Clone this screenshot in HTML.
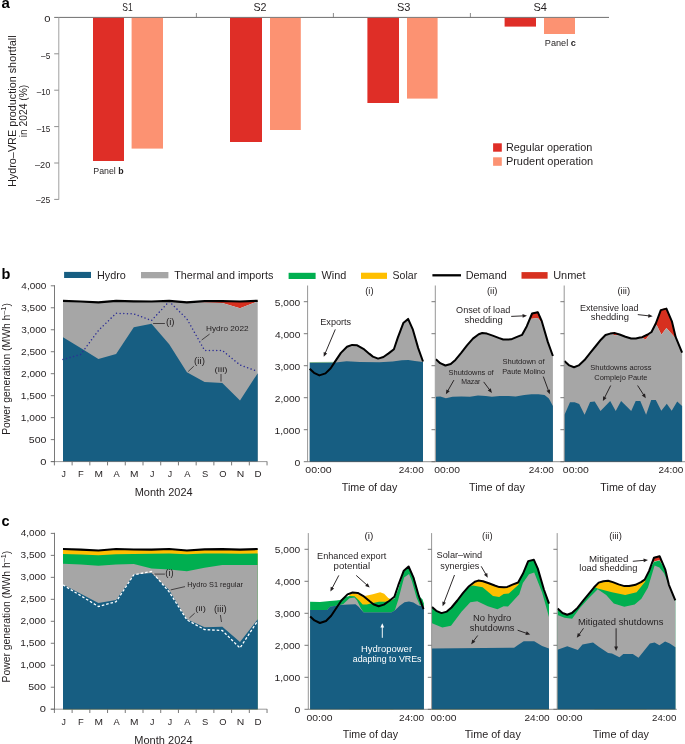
<!DOCTYPE html>
<html><head><meta charset="utf-8"><style>
html,body{margin:0;padding:0;background:#fff;width:685px;height:744px;overflow:hidden}
svg{display:block;font-family:"Liberation Sans", sans-serif;will-change:transform}
</style></head><body>
<svg width="685" height="744" viewBox="0 0 685 744">
<rect width="685" height="744" fill="#fff"/>
<text x="1.6" y="8" font-size="15" font-weight="bold" fill="#000">a</text>
<line x1="54.2" y1="17.4" x2="609" y2="17.4" stroke="#6e6e6e" stroke-width="1"/>
<line x1="58.8" y1="17.4" x2="58.8" y2="199.6" stroke="#a0a0a0" stroke-width="1"/>
<line x1="54.2" y1="53.8" x2="58.8" y2="53.8" stroke="#909090" stroke-width="1"/>
<line x1="54.2" y1="90.2" x2="58.8" y2="90.2" stroke="#909090" stroke-width="1"/>
<line x1="54.2" y1="126.6" x2="58.8" y2="126.6" stroke="#909090" stroke-width="1"/>
<line x1="54.2" y1="163" x2="58.8" y2="163" stroke="#909090" stroke-width="1"/>
<line x1="54.2" y1="199.4" x2="58.8" y2="199.4" stroke="#909090" stroke-width="1"/>
<line x1="196.4" y1="13" x2="196.4" y2="17.4" stroke="#6e6e6e" stroke-width="0.8"/>
<line x1="333.4" y1="13" x2="333.4" y2="17.4" stroke="#6e6e6e" stroke-width="0.8"/>
<line x1="470.4" y1="13" x2="470.4" y2="17.4" stroke="#6e6e6e" stroke-width="0.8"/>
<rect x="93" y="17.9" width="31" height="143.1" fill="#df2e27"/>
<rect x="131.6" y="17.9" width="31.4" height="130.7" fill="#fc9272"/>
<rect x="230" y="17.9" width="32" height="124.1" fill="#df2e27"/>
<rect x="270" y="17.9" width="30.8" height="112.1" fill="#fc9272"/>
<rect x="367.4" y="17.9" width="31.6" height="85.1" fill="#df2e27"/>
<rect x="407" y="17.9" width="30.6" height="80.7" fill="#fc9272"/>
<rect x="504.6" y="17.9" width="31.4" height="8.7" fill="#df2e27"/>
<rect x="544" y="17.9" width="31" height="16.1" fill="#fc9272"/>
<text x="122.31" y="11" font-size="11.3" textLength="10.4" lengthAdjust="spacingAndGlyphs" fill="#231f20">S1</text>
<text x="253.41" y="11" font-size="11.3" textLength="13.13" lengthAdjust="spacingAndGlyphs" fill="#231f20">S2</text>
<text x="396.9" y="11" font-size="11.3" textLength="13.49" lengthAdjust="spacingAndGlyphs" fill="#231f20">S3</text>
<text x="533.5" y="11" font-size="11.3" textLength="13.53" lengthAdjust="spacingAndGlyphs" fill="#231f20">S4</text>
<text x="44.21" y="22.2" font-size="9" textLength="6.22" lengthAdjust="spacingAndGlyphs" fill="#231f20">0</text>
<text x="41.1" y="58.6" font-size="9" textLength="9.25" lengthAdjust="spacingAndGlyphs" fill="#231f20">&#8211;5</text>
<text x="36.7" y="95.1" font-size="9" textLength="13.62" lengthAdjust="spacingAndGlyphs" fill="#231f20">&#8211;10</text>
<text x="36.7" y="131.8" font-size="9" textLength="13.64" lengthAdjust="spacingAndGlyphs" fill="#231f20">&#8211;15</text>
<text x="35" y="167.9" font-size="9" textLength="15.36" lengthAdjust="spacingAndGlyphs" fill="#231f20">&#8211;20</text>
<text x="36" y="203.4" font-size="9" textLength="14.36" lengthAdjust="spacingAndGlyphs" fill="#231f20">&#8211;25</text>
<text x="93.28" y="173.8" font-size="9.1" textLength="30.38" lengthAdjust="spacingAndGlyphs" fill="#231f20">Panel <tspan font-weight="bold">b</tspan></text>
<text x="544.85" y="46" font-size="9.1" textLength="31.02" lengthAdjust="spacingAndGlyphs" fill="#231f20">Panel <tspan font-weight="bold">c</tspan></text>
<text x="505.91" y="150.7" font-size="10.2" textLength="86.4" lengthAdjust="spacingAndGlyphs" fill="#231f20">Regular operation</text>
<text x="505.9" y="165.3" font-size="10.2" textLength="87.21" lengthAdjust="spacingAndGlyphs" fill="#231f20">Prudent operation</text>
<rect x="493.1" y="143.3" width="8.7" height="8.4" fill="#df2e27"/>
<rect x="493.1" y="157.3" width="8.7" height="8.5" fill="#fc9272"/>
<text transform="translate(16,111.2) rotate(-90)" font-size="11" text-anchor="middle" textLength="151.6" lengthAdjust="spacingAndGlyphs" fill="#231f20">Hydro&#8211;VRE production shortfall</text>
<text transform="translate(26.8,111) rotate(-90)" font-size="11" text-anchor="middle" textLength="52.5" lengthAdjust="spacingAndGlyphs" fill="#231f20">in 2024 (%)</text>
<text x="1.6" y="278.6" font-size="14.5" font-weight="bold" fill="#000">b</text>
<text x="1.6" y="526" font-size="14.5" font-weight="bold" fill="#000">c</text>
<polygon points="186.9,302.3 204.6,301.2 222.3,301 240,301.5 257.7,300.8 257.7,301.4 240,308.3 222.3,303 204.6,302.6 186.9,301.8" fill="#d7301f"/>
<polygon points="63,300.8 80.7,301.5 98.4,302.3 116.1,300.8 133.8,301.3 151.5,301.4 169.2,300.8 186.9,301.8 204.6,302.6 222.3,303 240,308.3 257.7,301.4 257.7,461.6 63,461.6" fill="#a6a6a6"/>
<polygon points="63,337.3 80.7,348.1 98.4,358.9 116.1,354.1 133.8,327.2 151.5,323.8 169.2,344.3 186.9,372.3 204.6,382 222.3,382.9 240,400.4 257.7,373.2 257.7,461.6 63,461.6" fill="#175e82"/>
<polyline points="63,359.4 80.7,354.4 98.4,330.5 116.1,313.3 133.8,313.9 151.5,320.5 169.2,301.4 186.9,318.9 204.6,350.4 222.3,350.4 240,365 257.7,371.5" fill="none" stroke="#2d2e96" stroke-width="1.5" stroke-linejoin="round" stroke-dasharray="0.01 3.65" stroke-linecap="round"/>
<polyline points="63,300.8 80.7,301.5 98.4,302.3 116.1,300.8 133.8,301.3 151.5,301.5 169.2,300.8 186.9,302.3 204.6,301.2 222.3,301 240,301.5 257.7,300.8" fill="none" stroke="#000" stroke-width="2.2" stroke-linejoin="round"/>
<line x1="54.5" y1="285.2" x2="54.5" y2="462" stroke="#6a6a6a" stroke-width="0.9"/>
<line x1="50.8" y1="461.6" x2="267.2" y2="461.6" stroke="#555" stroke-width="0.6"/>
<line x1="50.8" y1="461.6" x2="54.5" y2="461.6" stroke="#6a6a6a" stroke-width="0.9"/>
<line x1="50.8" y1="439.62" x2="54.5" y2="439.62" stroke="#6a6a6a" stroke-width="0.9"/>
<line x1="50.8" y1="417.65" x2="54.5" y2="417.65" stroke="#6a6a6a" stroke-width="0.9"/>
<line x1="50.8" y1="395.68" x2="54.5" y2="395.68" stroke="#6a6a6a" stroke-width="0.9"/>
<line x1="50.8" y1="373.7" x2="54.5" y2="373.7" stroke="#6a6a6a" stroke-width="0.9"/>
<line x1="50.8" y1="351.73" x2="54.5" y2="351.73" stroke="#6a6a6a" stroke-width="0.9"/>
<line x1="50.8" y1="329.75" x2="54.5" y2="329.75" stroke="#6a6a6a" stroke-width="0.9"/>
<line x1="50.8" y1="307.77" x2="54.5" y2="307.77" stroke="#6a6a6a" stroke-width="0.9"/>
<line x1="50.8" y1="285.8" x2="54.5" y2="285.8" stroke="#6a6a6a" stroke-width="0.9"/>
<line x1="54.4" y1="461.6" x2="54.4" y2="465.4" stroke="#6a6a6a" stroke-width="0.9"/>
<line x1="72.12" y1="461.6" x2="72.12" y2="465.4" stroke="#6a6a6a" stroke-width="0.9"/>
<line x1="89.84" y1="461.6" x2="89.84" y2="465.4" stroke="#6a6a6a" stroke-width="0.9"/>
<line x1="107.56" y1="461.6" x2="107.56" y2="465.4" stroke="#6a6a6a" stroke-width="0.9"/>
<line x1="125.28" y1="461.6" x2="125.28" y2="465.4" stroke="#6a6a6a" stroke-width="0.9"/>
<line x1="143" y1="461.6" x2="143" y2="465.4" stroke="#6a6a6a" stroke-width="0.9"/>
<line x1="160.72" y1="461.6" x2="160.72" y2="465.4" stroke="#6a6a6a" stroke-width="0.9"/>
<line x1="178.44" y1="461.6" x2="178.44" y2="465.4" stroke="#6a6a6a" stroke-width="0.9"/>
<line x1="196.16" y1="461.6" x2="196.16" y2="465.4" stroke="#6a6a6a" stroke-width="0.9"/>
<line x1="213.88" y1="461.6" x2="213.88" y2="465.4" stroke="#6a6a6a" stroke-width="0.9"/>
<line x1="231.6" y1="461.6" x2="231.6" y2="465.4" stroke="#6a6a6a" stroke-width="0.9"/>
<line x1="249.32" y1="461.6" x2="249.32" y2="465.4" stroke="#6a6a6a" stroke-width="0.9"/>
<line x1="267.04" y1="461.6" x2="267.04" y2="465.4" stroke="#6a6a6a" stroke-width="0.9"/>
<polygon points="63,549 80.7,549.7 98.4,550.5 116.1,549 133.8,549.5 151.5,549.7 169.2,549 186.9,550.5 204.6,549.4 222.3,549.2 240,549.7 257.7,549 257.7,709.2 63,709.2" fill="#ffbf00"/>
<polygon points="63,554.1 80.7,554.6 98.4,555.2 116.1,554.3 133.8,553.9 151.5,553.8 169.2,553.6 186.9,554.2 204.6,553.6 222.3,553.5 240,553.7 257.7,553.5 257.7,709.2 63,709.2" fill="#00af50"/>
<polygon points="63,563.7 80.7,564.6 98.4,565.7 116.1,564.5 133.8,564 151.5,568.5 169.2,569.5 186.9,571.2 204.6,567.8 222.3,565 240,565 257.7,565 257.7,709.2 63,709.2" fill="#a6a6a6"/>
<polygon points="63,584.6 80.7,593.8 98.4,603 116.1,599.9 133.8,574.6 151.5,573 169.2,590 186.9,619.3 204.6,627.2 222.3,626.7 240,642.1 257.7,619.3 257.7,709.2 63,709.2" fill="#175e82"/>
<polyline points="63,584.9 80.7,595.7 98.4,606.5 116.1,601.7 133.8,574.8 151.5,571.4 169.2,591.9 186.9,619.9 204.6,629.6 222.3,630.5 240,648 257.7,620.8" fill="none" stroke="#fff" stroke-width="1.3" stroke-linejoin="round" stroke-dasharray="2.6 1.9"/>
<polyline points="63,549 80.7,549.7 98.4,550.5 116.1,549 133.8,549.5 151.5,549.7 169.2,549 186.9,550.5 204.6,549.4 222.3,549.2 240,549.7 257.7,549" fill="none" stroke="#000" stroke-width="2.2" stroke-linejoin="round"/>
<line x1="54.5" y1="532.8" x2="54.5" y2="709.6" stroke="#6a6a6a" stroke-width="0.9"/>
<line x1="50.8" y1="709.2" x2="267.2" y2="709.2" stroke="#555" stroke-width="0.6"/>
<line x1="50.8" y1="709.2" x2="54.5" y2="709.2" stroke="#6a6a6a" stroke-width="0.9"/>
<line x1="50.8" y1="687.23" x2="54.5" y2="687.23" stroke="#6a6a6a" stroke-width="0.9"/>
<line x1="50.8" y1="665.25" x2="54.5" y2="665.25" stroke="#6a6a6a" stroke-width="0.9"/>
<line x1="50.8" y1="643.28" x2="54.5" y2="643.28" stroke="#6a6a6a" stroke-width="0.9"/>
<line x1="50.8" y1="621.3" x2="54.5" y2="621.3" stroke="#6a6a6a" stroke-width="0.9"/>
<line x1="50.8" y1="599.33" x2="54.5" y2="599.33" stroke="#6a6a6a" stroke-width="0.9"/>
<line x1="50.8" y1="577.35" x2="54.5" y2="577.35" stroke="#6a6a6a" stroke-width="0.9"/>
<line x1="50.8" y1="555.38" x2="54.5" y2="555.38" stroke="#6a6a6a" stroke-width="0.9"/>
<line x1="50.8" y1="533.4" x2="54.5" y2="533.4" stroke="#6a6a6a" stroke-width="0.9"/>
<line x1="54.4" y1="709.2" x2="54.4" y2="713" stroke="#6a6a6a" stroke-width="0.9"/>
<line x1="72.12" y1="709.2" x2="72.12" y2="713" stroke="#6a6a6a" stroke-width="0.9"/>
<line x1="89.84" y1="709.2" x2="89.84" y2="713" stroke="#6a6a6a" stroke-width="0.9"/>
<line x1="107.56" y1="709.2" x2="107.56" y2="713" stroke="#6a6a6a" stroke-width="0.9"/>
<line x1="125.28" y1="709.2" x2="125.28" y2="713" stroke="#6a6a6a" stroke-width="0.9"/>
<line x1="143" y1="709.2" x2="143" y2="713" stroke="#6a6a6a" stroke-width="0.9"/>
<line x1="160.72" y1="709.2" x2="160.72" y2="713" stroke="#6a6a6a" stroke-width="0.9"/>
<line x1="178.44" y1="709.2" x2="178.44" y2="713" stroke="#6a6a6a" stroke-width="0.9"/>
<line x1="196.16" y1="709.2" x2="196.16" y2="713" stroke="#6a6a6a" stroke-width="0.9"/>
<line x1="213.88" y1="709.2" x2="213.88" y2="713" stroke="#6a6a6a" stroke-width="0.9"/>
<line x1="231.6" y1="709.2" x2="231.6" y2="713" stroke="#6a6a6a" stroke-width="0.9"/>
<line x1="249.32" y1="709.2" x2="249.32" y2="713" stroke="#6a6a6a" stroke-width="0.9"/>
<line x1="267.04" y1="709.2" x2="267.04" y2="713" stroke="#6a6a6a" stroke-width="0.9"/>
<polygon points="309.7,368.8 314,372.8 319.4,375.4 325.5,373.4 330.7,368.2 334.7,362.1 340.9,352.9 347,346.8 352.1,344.9 357.2,345.3 363.4,348.8 369.5,353.9 372.9,356.6 378.1,358.6 383.4,357 388.6,353.4 393.9,349.2 397.8,337.6 403.3,323.1 408.1,318.9 412.9,329.7 418.2,348.1 423,361.5 423,461.7 309.7,461.7" fill="#a6a6a6"/>
<polygon points="309.7,362.8 336,362.5 340,361.9 346.6,361.2 359.7,361.9 379.4,362.3 392.6,361.5 401.8,360.2 408.3,359.9 414.9,361 423,361.9 423,461.7 309.7,461.7" fill="#175e82"/>
<line x1="309.7" y1="362.55" x2="334.5" y2="362.3" stroke="#4f9a5a" stroke-width="0.6"/>
<polyline points="309.7,368.8 314,372.8 319.4,375.4 325.5,373.4 330.7,368.2 334.7,362.1 340.9,352.9 347,346.8 352.1,344.9 357.2,345.3 363.4,348.8 369.5,353.9 372.9,356.6 378.1,358.6 383.4,357 388.6,353.4 393.9,349.2 397.8,337.6 403.3,323.1 408.1,318.9 412.9,329.7 418.2,348.1 423,361.5" fill="none" stroke="#000" stroke-width="2" stroke-linejoin="round"/>
<line x1="307.6" y1="285.5" x2="307.6" y2="461.7" stroke="#8a8a8a" stroke-width="0.9"/>
<line x1="303.8" y1="461.7" x2="307.6" y2="461.7" stroke="#6a6a6a" stroke-width="0.9"/>
<line x1="303.8" y1="429.7" x2="307.6" y2="429.7" stroke="#6a6a6a" stroke-width="0.9"/>
<line x1="303.8" y1="397.7" x2="307.6" y2="397.7" stroke="#6a6a6a" stroke-width="0.9"/>
<line x1="303.8" y1="365.7" x2="307.6" y2="365.7" stroke="#6a6a6a" stroke-width="0.9"/>
<line x1="303.8" y1="333.7" x2="307.6" y2="333.7" stroke="#6a6a6a" stroke-width="0.9"/>
<line x1="303.8" y1="301.7" x2="307.6" y2="301.7" stroke="#6a6a6a" stroke-width="0.9"/>
<line x1="307.6" y1="461.7" x2="435.3" y2="461.7" stroke="#444" stroke-width="0.6"/>
<polygon points="528.5,321.53 531.2,315.06 532.1,312.9 537.8,311.6 540.4,317.47 541.5,319.95 541.5,323.2 540.4,321 537.8,317.9 532.1,318.68 531.2,318.8 528.5,322.5" fill="#d7301f"/>
<polygon points="435.9,359.3 440.2,363.2 445.4,365.5 450.7,364 455.4,359.9 461.2,352.9 467,345.3 472.9,338.6 478.7,334.2 482.2,333 486.9,333.6 492.7,335.6 498.6,337.9 503.2,339.5 507.9,339.6 511.1,339.3 516.4,337.1 522,334.9 526.8,326.2 528.5,322.5 531.2,318.8 532.1,318.68 537.8,317.9 540.4,321 541.5,323.2 541.7,321 547.8,341.9 552.9,356 552.9,461.7 435.9,461.7" fill="#a6a6a6"/>
<polygon points="435.9,396.8 440.3,396.4 445.9,398.2 452.5,396.8 461.3,396.4 470,396.8 477.9,395.4 485.8,395.9 491.9,396.8 499.8,395.9 508.6,395.9 515.6,396.4 524.3,395 531.4,394.2 538.4,394.2 544.5,395 548.9,398.5 552.9,405.9 552.9,461.7 435.9,461.7" fill="#175e82"/>
<polyline points="435.9,359.3 440.2,363.2 445.4,365.5 450.7,364 455.4,359.9 461.2,352.9 467,345.3 472.9,338.6 478.7,334.2 482.2,333 486.9,333.6 492.7,335.6 498.6,337.9 503.2,339.5 507.9,339.6 511.1,339.3 516.4,337.1 522,334.9 526.8,326.2 532.1,313.5 537.8,312.2 541.7,321 547.8,341.9 552.9,356" fill="none" stroke="#000" stroke-width="2" stroke-linejoin="round"/>
<line x1="435.3" y1="285.5" x2="435.3" y2="461.7" stroke="#8a8a8a" stroke-width="0.9"/>
<line x1="431.5" y1="461.7" x2="435.3" y2="461.7" stroke="#6a6a6a" stroke-width="0.9"/>
<line x1="431.5" y1="429.7" x2="435.3" y2="429.7" stroke="#6a6a6a" stroke-width="0.9"/>
<line x1="431.5" y1="397.7" x2="435.3" y2="397.7" stroke="#6a6a6a" stroke-width="0.9"/>
<line x1="431.5" y1="365.7" x2="435.3" y2="365.7" stroke="#6a6a6a" stroke-width="0.9"/>
<line x1="431.5" y1="333.7" x2="435.3" y2="333.7" stroke="#6a6a6a" stroke-width="0.9"/>
<line x1="431.5" y1="301.7" x2="435.3" y2="301.7" stroke="#6a6a6a" stroke-width="0.9"/>
<line x1="435.3" y1="461.7" x2="564.2" y2="461.7" stroke="#444" stroke-width="0.6"/>
<polygon points="611.5,332.86 614.9,332.5 618,333.42 618,335 614.9,335.6 611.5,333.6" fill="#d7301f"/>
<polygon points="641.5,336.73 642.2,336.6 645.9,334.82 647.8,333.9 649.8,332.55 649.8,334 647.8,336.87 645.9,339.6 642.2,337.92 641.5,337.6" fill="#d7301f"/>
<polygon points="653.8,326.85 655.8,322.9 656.5,321.02 660.8,309.5 661.4,309.34 666.4,308 672,321.1 675.1,334.09 675.5,335.76 675.5,338.5 675.1,337.8 672,334.27 666.4,327.9 661.4,334.7 660.8,333.49 656.5,324.8 655.8,325.76 653.8,328.5" fill="#d7301f"/>
<polygon points="564.4,361 569.3,365.4 574,367.2 578.7,365.4 584.5,360.1 590.4,352.6 596.2,345.5 600.9,339.7 605.5,335 610.2,333.6 611.5,333.6 614.9,335.6 618,335 619.6,334.5 625.4,336.8 631.2,338.5 635.9,338.5 640,337.6 641.5,337.6 642.2,337.92 645.9,339.6 647.8,336.87 649.8,334 651.5,332 653.8,328.5 655.8,325.76 656.5,324.8 660.8,333.49 661.4,334.7 666.4,327.9 672,334.27 675.1,337.8 675.5,338.5 675.7,337.2 682.1,352.7 682.1,461.7 564.4,461.7" fill="#a6a6a6"/>
<polygon points="564.5,414.7 570,402.3 574.6,402.3 579.2,404.1 584.6,414.7 590.1,401.9 594.7,401.5 600.5,411 610.2,401 615.7,411 621.1,401 625.7,405.5 631.2,411 635.7,401 640.3,401 646.1,414.7 651.2,400.1 655.8,400.1 661.3,410.7 666.8,403.7 671.7,410.7 677.2,401.4 682.1,406 682.1,461.7 564.5,461.7" fill="#175e82"/>
<polyline points="564.4,361 569.3,365.4 574,367.2 578.7,365.4 584.5,360.1 590.4,352.6 596.2,345.5 600.9,339.7 605.5,335 610.2,333.6 614.9,333.1 619.6,334.5 625.4,336.8 631.2,338.5 635.9,338.5 640,337.6 642.2,337.2 647.8,334.5 651.5,332 655.8,323.5 660.8,310.1 666.4,308.6 672,321.7 675.7,337.2 682.1,352.7" fill="none" stroke="#000" stroke-width="2" stroke-linejoin="round"/>
<line x1="564.2" y1="285.5" x2="564.2" y2="461.7" stroke="#8a8a8a" stroke-width="0.9"/>
<line x1="560.4" y1="461.7" x2="564.2" y2="461.7" stroke="#6a6a6a" stroke-width="0.9"/>
<line x1="560.4" y1="429.7" x2="564.2" y2="429.7" stroke="#6a6a6a" stroke-width="0.9"/>
<line x1="560.4" y1="397.7" x2="564.2" y2="397.7" stroke="#6a6a6a" stroke-width="0.9"/>
<line x1="560.4" y1="365.7" x2="564.2" y2="365.7" stroke="#6a6a6a" stroke-width="0.9"/>
<line x1="560.4" y1="333.7" x2="564.2" y2="333.7" stroke="#6a6a6a" stroke-width="0.9"/>
<line x1="560.4" y1="301.7" x2="564.2" y2="301.7" stroke="#6a6a6a" stroke-width="0.9"/>
<line x1="564.2" y1="461.7" x2="685" y2="461.7" stroke="#444" stroke-width="0.6"/>
<polygon points="349.4,596.1 349.4,594.3 354.5,593.1 360.7,595.3 364.7,596.1 372.9,594.3 380.1,592.3 384.2,593.8 388.2,597.9 391.3,599.4 393.4,599.6 393.4,709.3 349.4,709.3" fill="#ffbf00"/>
<polygon points="310.1,601.8 320,602 330,601 336.1,600.4 340.2,599.9 345.3,596.9 349.4,596.1 354.5,596.3 358.6,599.9 362.7,604.5 366.8,604.5 372.9,603 379,601.7 385.2,601.7 391.3,600.4 394.4,598.5 398.1,589.5 403.7,571.5 409,567 414.2,578 419,596.5 422.3,599 423.9,603.4 423.9,709.3 310.1,709.3" fill="#00af50"/>
<polygon points="310.1,610 327,610 330,606.8 340.2,605 343.3,604 349.4,598.2 354.5,597.6 357.1,600.4 360.7,608.1 363.7,612.5 391.3,612.5 394.8,610.6 398.1,600.2 404.1,577.6 409,574 411.8,580.8 416.6,597.7 419.8,605 423.9,606.6 423.9,709.3 310.1,709.3" fill="#a6a6a6"/>
<polygon points="310.1,610 327,610 330,606.8 340.2,605 348.4,604.5 355.5,604.3 358.6,606.8 363.7,612.5 391.3,612.5 394.8,610.6 399.7,605.8 404.5,602.2 409,601.4 413.4,602.6 418.2,605.4 423.9,606.6 423.9,709.3 310.1,709.3" fill="#175e82"/>
<polyline points="310.2,616.4 314.5,620.4 319.9,623 326,621 331.2,615.8 335.2,609.7 341.4,600.5 347.5,594.4 352.6,592.5 357.7,592.9 363.9,596.4 370,601.5 373.4,604.2 378.6,606.2 383.9,604.6 389.1,601 394.4,596.8 398.3,585.2 403.8,570.7 408.6,566.5 413.4,577.3 418.7,595.7 423.5,609.1" fill="none" stroke="#000" stroke-width="2" stroke-linejoin="round"/>
<line x1="308.3" y1="533.1" x2="308.3" y2="709.3" stroke="#8a8a8a" stroke-width="0.9"/>
<line x1="304.5" y1="709.3" x2="308.3" y2="709.3" stroke="#6a6a6a" stroke-width="0.9"/>
<line x1="304.5" y1="677.3" x2="308.3" y2="677.3" stroke="#6a6a6a" stroke-width="0.9"/>
<line x1="304.5" y1="645.3" x2="308.3" y2="645.3" stroke="#6a6a6a" stroke-width="0.9"/>
<line x1="304.5" y1="613.3" x2="308.3" y2="613.3" stroke="#6a6a6a" stroke-width="0.9"/>
<line x1="304.5" y1="581.3" x2="308.3" y2="581.3" stroke="#6a6a6a" stroke-width="0.9"/>
<line x1="304.5" y1="549.3" x2="308.3" y2="549.3" stroke="#6a6a6a" stroke-width="0.9"/>
<line x1="308.3" y1="709.3" x2="431.6" y2="709.3" stroke="#444" stroke-width="0.6"/>
<polygon points="432,606.9 436.3,610.8 441.5,613.1 446.8,611.6 451.5,607.5 457.3,600.5 463.1,592.9 469,586.2 474.8,581.8 478.3,580.6 483,581.2 488.8,583.2 494.7,585.5 499.3,587.1 504,587.2 507.2,586.9 512.5,584.7 518.1,582.5 522.9,573.8 528.2,561.1 533.9,559.8 537.8,568.6 543.9,589.5 549,603.6 549,709.3 432,709.3" fill="#ffbf00"/>
<polygon points="432,606.9 436.3,610.8 441.5,613.1 446.8,611.6 451.5,607.5 457.3,600.5 463.1,592.9 468.5,586.77 472.9,585.5 482.6,587.3 493,596 499.2,597 503.6,594 508.8,593.4 518.5,584.7 519.5,579.96 522.9,573.8 528.2,561.1 533.9,559.8 537.8,568.6 543.9,589.5 549,603.6 549,709.3 432,709.3" fill="#00af50"/>
<polygon points="432,623.2 442.3,627.6 451,625.8 461.5,611.8 470.3,602.2 477.3,601.3 487.8,606.2 497.4,609.2 503.6,606.2 508,606.6 519.3,594.3 522.9,582.9 529,574.2 534.2,572.4 542.1,592.6 549,617.1 549,709.3 432,709.3" fill="#a6a6a6"/>
<polygon points="432,648.6 514.1,647.7 518,645 523.7,641.3 534.2,641.3 542.1,646 549,648.6 549,709.3 432,709.3" fill="#175e82"/>
<polyline points="432,606.9 436.3,610.8 441.5,613.1 446.8,611.6 451.5,607.5 457.3,600.5 463.1,592.9 469,586.2 474.8,581.8 478.3,580.6 483,581.2 488.8,583.2 494.7,585.5 499.3,587.1 504,587.2 507.2,586.9 512.5,584.7 518.1,582.5 522.9,573.8 528.2,561.1 533.9,559.8 537.8,568.6 543.9,589.5 549,603.6" fill="none" stroke="#000" stroke-width="2" stroke-linejoin="round"/>
<line x1="431.6" y1="533.1" x2="431.6" y2="709.3" stroke="#8a8a8a" stroke-width="0.9"/>
<line x1="427.8" y1="709.3" x2="431.6" y2="709.3" stroke="#6a6a6a" stroke-width="0.9"/>
<line x1="427.8" y1="677.3" x2="431.6" y2="677.3" stroke="#6a6a6a" stroke-width="0.9"/>
<line x1="427.8" y1="645.3" x2="431.6" y2="645.3" stroke="#6a6a6a" stroke-width="0.9"/>
<line x1="427.8" y1="613.3" x2="431.6" y2="613.3" stroke="#6a6a6a" stroke-width="0.9"/>
<line x1="427.8" y1="581.3" x2="431.6" y2="581.3" stroke="#6a6a6a" stroke-width="0.9"/>
<line x1="427.8" y1="549.3" x2="431.6" y2="549.3" stroke="#6a6a6a" stroke-width="0.9"/>
<line x1="431.6" y1="709.3" x2="557.2" y2="709.3" stroke="#444" stroke-width="0.6"/>
<polygon points="594.5,586.89 598.7,582.6 603.4,581.2 608.1,580.7 612.8,582.1 618.6,584.4 624.4,586.1 629.1,586.1 633.2,585.2 635.4,584.8 641,582.1 644.7,579.6 646.5,576.04 646.5,709.3 594.5,709.3" fill="#ffbf00"/>
<polygon points="652.5,561.12 654,557.1 654.6,556.94 659.4,555.65 659.6,555.6 664.1,566.13 665.2,568.7 666,572.05 666,572.65 665.2,569.3 664.1,566.8 659.6,560.48 659.4,560.2 654.6,561.2 654,561.86 652.5,563.5" fill="#d7301f"/>
<polygon points="557.6,608.6 562.5,613 567.2,614.8 571.9,613 577.7,607.7 583.6,600.2 589.4,593.1 594.1,587.3 594.5,586.89 597.7,588.6 612,592.2 625.2,595 636.6,592.2 645.1,581.8 646.5,576.04 649,571.1 654,561.86 659.6,560.48 665.2,569.3 668.9,584.8 675.3,600.3 675.3,709.3 557.6,709.3" fill="#00af50"/>
<polygon points="557.5,615 564.5,617.8 572.1,618.8 579.7,608.3 588.2,598.8 597.7,589.3 606.2,595 613.8,603.6 624.3,606.8 634.7,604.5 641.4,598.8 648,587.4 654.6,565.6 659.4,567.5 664.1,573.2 669.8,587.4 675.4,601.7 675.4,709.3 557.5,709.3" fill="#a6a6a6"/>
<polygon points="557.5,649.7 567.3,646.3 577.8,650.1 582.5,644.4 593,642.5 598.7,646.7 608.1,652.9 612,653.5 619.5,657.3 623.3,653.9 632.8,653.9 638.5,657.7 649.9,643.4 654.6,642.5 659.4,645.3 665.1,641.5 669.8,643.4 675.4,647.2 675.4,709.3 557.5,709.3" fill="#175e82"/>
<polyline points="557.6,608.6 562.5,613 567.2,614.8 571.9,613 577.7,607.7 583.6,600.2 589.4,593.1 594.1,587.3 598.7,582.6 603.4,581.2 608.1,580.7 612.8,582.1 618.6,584.4 624.4,586.1 629.1,586.1 633.2,585.2 635.4,584.8 641,582.1 644.7,579.6 649,571.1 654,557.7 659.6,556.2 665.2,569.3 668.9,584.8 675.3,600.3" fill="none" stroke="#000" stroke-width="2" stroke-linejoin="round"/>
<line x1="557.2" y1="533.1" x2="557.2" y2="709.3" stroke="#8a8a8a" stroke-width="0.9"/>
<line x1="553.4" y1="709.3" x2="557.2" y2="709.3" stroke="#6a6a6a" stroke-width="0.9"/>
<line x1="553.4" y1="677.3" x2="557.2" y2="677.3" stroke="#6a6a6a" stroke-width="0.9"/>
<line x1="553.4" y1="645.3" x2="557.2" y2="645.3" stroke="#6a6a6a" stroke-width="0.9"/>
<line x1="553.4" y1="613.3" x2="557.2" y2="613.3" stroke="#6a6a6a" stroke-width="0.9"/>
<line x1="553.4" y1="581.3" x2="557.2" y2="581.3" stroke="#6a6a6a" stroke-width="0.9"/>
<line x1="553.4" y1="549.3" x2="557.2" y2="549.3" stroke="#6a6a6a" stroke-width="0.9"/>
<line x1="557.2" y1="709.3" x2="676.8" y2="709.3" stroke="#444" stroke-width="0.6"/>
<rect x="64.1" y="271.9" width="26.9" height="6.1" fill="#175e82"/>
<rect x="141" y="272" width="27.4" height="6.3" fill="#a6a6a6"/>
<rect x="288.6" y="272.8" width="27" height="6.2" fill="#00af50"/>
<rect x="361" y="272.7" width="26" height="6.2" fill="#ffbf00"/>
<line x1="432.4" y1="275.3" x2="461" y2="275.3" stroke="#000" stroke-width="2.3"/>
<rect x="521.5" y="272.1" width="26.1" height="6.6" fill="#d7301f"/>
<text x="96.91" y="278.8" font-size="10.3" textLength="28.95" lengthAdjust="spacingAndGlyphs" fill="#231f20">Hydro</text>
<text x="174.16" y="278.8" font-size="10.3" textLength="99.23" lengthAdjust="spacingAndGlyphs" fill="#231f20">Thermal and imports</text>
<text x="321.55" y="278.8" font-size="10.3" textLength="24.75" lengthAdjust="spacingAndGlyphs" fill="#231f20">Wind</text>
<text x="392.52" y="278.8" font-size="10.3" textLength="24.65" lengthAdjust="spacingAndGlyphs" fill="#231f20">Solar</text>
<text x="465.71" y="278.8" font-size="10.3" textLength="40.99" lengthAdjust="spacingAndGlyphs" fill="#231f20">Demand</text>
<text x="553.15" y="278.8" font-size="10.3" textLength="32.33" lengthAdjust="spacingAndGlyphs" fill="#231f20">Unmet</text>
<line x1="153.1" y1="323.5" x2="164.9" y2="323.5" stroke="#231f20" stroke-width="0.75"/>
<line x1="209.6" y1="334.1" x2="201.7" y2="340" stroke="#231f20" stroke-width="0.75"/>
<line x1="193.8" y1="366.2" x2="188.2" y2="371.5" stroke="#231f20" stroke-width="0.75"/>
<line x1="221" y1="374" x2="221" y2="381.5" stroke="#231f20" stroke-width="0.75"/>
<line x1="152.6" y1="574.1" x2="164.9" y2="574.1" stroke="#231f20" stroke-width="0.75"/>
<line x1="185" y1="586.6" x2="170.7" y2="589.9" stroke="#231f20" stroke-width="0.75"/>
<line x1="194.7" y1="613.2" x2="189.4" y2="618" stroke="#231f20" stroke-width="0.75"/>
<line x1="220.4" y1="615" x2="221.5" y2="622" stroke="#231f20" stroke-width="0.75"/>
<line x1="335.3" y1="329.4" x2="325.1" y2="353.48" stroke="#231f20" stroke-width="0.95"/>
<polygon points="323.7,356.8 323.67,352.01 327.17,353.49" fill="#231f20"/>
<line x1="511.2" y1="316.4" x2="523.4" y2="315.86" stroke="#231f20" stroke-width="0.95"/>
<polygon points="527,315.7 522.69,317.79 522.52,314" fill="#231f20"/>
<line x1="453.9" y1="380.1" x2="447.68" y2="391.07" stroke="#231f20" stroke-width="0.95"/>
<polygon points="445.9,394.2 446.42,389.44 449.72,391.31" fill="#231f20"/>
<line x1="483.7" y1="381.9" x2="489.75" y2="390.01" stroke="#231f20" stroke-width="0.95"/>
<polygon points="491.9,392.9 487.75,390.51 490.79,388.24" fill="#231f20"/>
<line x1="543.3" y1="376.6" x2="548.55" y2="390.82" stroke="#231f20" stroke-width="0.95"/>
<polygon points="549.8,394.2 546.49,390.73 550.06,389.41" fill="#231f20"/>
<line x1="637.8" y1="314.6" x2="649.12" y2="315.89" stroke="#231f20" stroke-width="0.95"/>
<polygon points="652.7,316.3 648.11,317.69 648.54,313.91" fill="#231f20"/>
<line x1="610.7" y1="385.5" x2="604.52" y2="397.78" stroke="#231f20" stroke-width="0.95"/>
<polygon points="602.9,401 603.18,396.22 606.58,397.92" fill="#231f20"/>
<line x1="637.6" y1="385.5" x2="643.85" y2="395.18" stroke="#231f20" stroke-width="0.95"/>
<polygon points="645.8,398.2 641.82,395.53 645.01,393.47" fill="#231f20"/>
<line x1="338.8" y1="575.4" x2="332.07" y2="588.31" stroke="#231f20" stroke-width="0.95"/>
<polygon points="330.4,591.5 330.75,586.72 334.12,588.48" fill="#231f20"/>
<line x1="356.2" y1="575.4" x2="367.02" y2="585.1" stroke="#231f20" stroke-width="0.95"/>
<polygon points="369.7,587.5 365.16,585.98 367.69,583.15" fill="#231f20"/>
<line x1="454.5" y1="575" x2="443.88" y2="602.84" stroke="#231f20" stroke-width="0.95"/>
<polygon points="442.6,606.2 442.39,601.41 445.94,602.77" fill="#231f20"/>
<line x1="481.2" y1="566.3" x2="486" y2="574.58" stroke="#231f20" stroke-width="0.95"/>
<polygon points="487.8,577.7 483.95,574.84 487.24,572.94" fill="#231f20"/>
<line x1="477.7" y1="635.5" x2="473.35" y2="641.32" stroke="#231f20" stroke-width="0.95"/>
<polygon points="471.2,644.2 472.31,639.54 475.36,641.81" fill="#231f20"/>
<line x1="517.6" y1="630.2" x2="526.8" y2="633.41" stroke="#231f20" stroke-width="0.95"/>
<polygon points="530.2,634.6 525.42,634.94 526.67,631.36" fill="#231f20"/>
<line x1="632.8" y1="561.3" x2="644.41" y2="560.31" stroke="#231f20" stroke-width="0.95"/>
<polygon points="648,560 643.78,562.27 643.45,558.48" fill="#231f20"/>
<line x1="583.5" y1="628.3" x2="578.89" y2="634.77" stroke="#231f20" stroke-width="0.95"/>
<polygon points="576.8,637.7 577.81,633.01 580.9,635.22" fill="#231f20"/>
<line x1="616.1" y1="628.3" x2="616.1" y2="647.4" stroke="#231f20" stroke-width="0.95"/>
<polygon points="616.1,651 614.2,646.6 618,646.6" fill="#231f20"/>
<line x1="382.3" y1="637.8" x2="382.3" y2="626.8" stroke="#fff" stroke-width="0.95"/>
<polygon points="382.3,623.2 384.2,627.6 380.4,627.6" fill="#fff"/>
<text transform="translate(9.9,369) rotate(-90)" font-size="10" text-anchor="middle" textLength="131.7" lengthAdjust="spacingAndGlyphs" fill="#231f20">Power generation (MWh h<tspan dy="-4.2" font-size="7">&#8211;1</tspan><tspan dy="4.2">)</tspan></text>
<text transform="translate(9.9,616.6) rotate(-90)" font-size="10" text-anchor="middle" textLength="131.7" lengthAdjust="spacingAndGlyphs" fill="#231f20">Power generation (MWh h<tspan dy="-4.2" font-size="7">&#8211;1</tspan><tspan dy="4.2">)</tspan></text>
<text x="40.27" y="464.65" font-size="8.9" textLength="6.17" lengthAdjust="spacingAndGlyphs" fill="#231f20">0</text>
<text x="28.78" y="442.68" font-size="8.9" textLength="17.64" lengthAdjust="spacingAndGlyphs" fill="#231f20">500</text>
<text x="20.82" y="420.7" font-size="8.9" textLength="25.58" lengthAdjust="spacingAndGlyphs" fill="#231f20">1,000</text>
<text x="20.82" y="398.73" font-size="8.9" textLength="25.58" lengthAdjust="spacingAndGlyphs" fill="#231f20">1,500</text>
<text x="21.09" y="376.75" font-size="8.9" textLength="25.3" lengthAdjust="spacingAndGlyphs" fill="#231f20">2,000</text>
<text x="21.09" y="354.78" font-size="8.9" textLength="25.3" lengthAdjust="spacingAndGlyphs" fill="#231f20">2,500</text>
<text x="21.22" y="332.8" font-size="8.9" textLength="25.18" lengthAdjust="spacingAndGlyphs" fill="#231f20">3,000</text>
<text x="21.22" y="310.82" font-size="8.9" textLength="25.18" lengthAdjust="spacingAndGlyphs" fill="#231f20">3,500</text>
<text x="21.37" y="288.85" font-size="8.9" textLength="25.02" lengthAdjust="spacingAndGlyphs" fill="#231f20">4,000</text>
<text x="61.46" y="477" font-size="8.3" textLength="4.39" lengthAdjust="spacingAndGlyphs" fill="#231f20">J</text>
<text x="78.05" y="477" font-size="8.3" textLength="5.75" lengthAdjust="spacingAndGlyphs" fill="#231f20">F</text>
<text x="94.61" y="477" font-size="8.3" textLength="8.47" lengthAdjust="spacingAndGlyphs" fill="#231f20">M</text>
<text x="113.44" y="477" font-size="8.3" textLength="6.24" lengthAdjust="spacingAndGlyphs" fill="#231f20">A</text>
<text x="130.05" y="477" font-size="8.3" textLength="8.47" lengthAdjust="spacingAndGlyphs" fill="#231f20">M</text>
<text x="150.06" y="477" font-size="8.3" textLength="4.39" lengthAdjust="spacingAndGlyphs" fill="#231f20">J</text>
<text x="167.78" y="477" font-size="8.3" textLength="4.39" lengthAdjust="spacingAndGlyphs" fill="#231f20">J</text>
<text x="184.32" y="477" font-size="8.3" textLength="6.24" lengthAdjust="spacingAndGlyphs" fill="#231f20">A</text>
<text x="202.03" y="477" font-size="8.3" textLength="6.26" lengthAdjust="spacingAndGlyphs" fill="#231f20">S</text>
<text x="219.24" y="477" font-size="8.3" textLength="7.29" lengthAdjust="spacingAndGlyphs" fill="#231f20">O</text>
<text x="236.85" y="477" font-size="8.3" textLength="7.5" lengthAdjust="spacingAndGlyphs" fill="#231f20">N</text>
<text x="254.62" y="477" font-size="8.3" textLength="7.07" lengthAdjust="spacingAndGlyphs" fill="#231f20">D</text>
<text x="134.7" y="495.5" font-size="10.8" textLength="57.92" lengthAdjust="spacingAndGlyphs" fill="#231f20">Month 2024</text>
<text x="294.49" y="465.7" font-size="9.1" textLength="5.82" lengthAdjust="spacingAndGlyphs" fill="#231f20">0</text>
<text x="274.41" y="433.7" font-size="9.1" textLength="25.89" lengthAdjust="spacingAndGlyphs" fill="#231f20">1,000</text>
<text x="274.69" y="401.7" font-size="9.1" textLength="25.61" lengthAdjust="spacingAndGlyphs" fill="#231f20">2,000</text>
<text x="274.81" y="369.7" font-size="9.1" textLength="25.49" lengthAdjust="spacingAndGlyphs" fill="#231f20">3,000</text>
<text x="274.97" y="337.7" font-size="9.1" textLength="25.33" lengthAdjust="spacingAndGlyphs" fill="#231f20">4,000</text>
<text x="274.79" y="305.7" font-size="9.1" textLength="25.51" lengthAdjust="spacingAndGlyphs" fill="#231f20">5,000</text>
<text x="39.67" y="712.25" font-size="8.9" textLength="6.17" lengthAdjust="spacingAndGlyphs" fill="#231f20">0</text>
<text x="28.18" y="690.27" font-size="8.9" textLength="17.64" lengthAdjust="spacingAndGlyphs" fill="#231f20">500</text>
<text x="20.22" y="668.3" font-size="8.9" textLength="25.58" lengthAdjust="spacingAndGlyphs" fill="#231f20">1,000</text>
<text x="20.22" y="646.33" font-size="8.9" textLength="25.58" lengthAdjust="spacingAndGlyphs" fill="#231f20">1,500</text>
<text x="20.49" y="624.35" font-size="8.9" textLength="25.3" lengthAdjust="spacingAndGlyphs" fill="#231f20">2,000</text>
<text x="20.49" y="602.38" font-size="8.9" textLength="25.3" lengthAdjust="spacingAndGlyphs" fill="#231f20">2,500</text>
<text x="20.62" y="580.4" font-size="8.9" textLength="25.18" lengthAdjust="spacingAndGlyphs" fill="#231f20">3,000</text>
<text x="20.62" y="558.42" font-size="8.9" textLength="25.18" lengthAdjust="spacingAndGlyphs" fill="#231f20">3,500</text>
<text x="20.77" y="536.45" font-size="8.9" textLength="25.02" lengthAdjust="spacingAndGlyphs" fill="#231f20">4,000</text>
<text x="61.46" y="724.6" font-size="8.3" textLength="4.39" lengthAdjust="spacingAndGlyphs" fill="#231f20">J</text>
<text x="78.05" y="724.6" font-size="8.3" textLength="5.75" lengthAdjust="spacingAndGlyphs" fill="#231f20">F</text>
<text x="94.61" y="724.6" font-size="8.3" textLength="8.47" lengthAdjust="spacingAndGlyphs" fill="#231f20">M</text>
<text x="113.44" y="724.6" font-size="8.3" textLength="6.24" lengthAdjust="spacingAndGlyphs" fill="#231f20">A</text>
<text x="130.05" y="724.6" font-size="8.3" textLength="8.47" lengthAdjust="spacingAndGlyphs" fill="#231f20">M</text>
<text x="150.06" y="724.6" font-size="8.3" textLength="4.39" lengthAdjust="spacingAndGlyphs" fill="#231f20">J</text>
<text x="167.78" y="724.6" font-size="8.3" textLength="4.39" lengthAdjust="spacingAndGlyphs" fill="#231f20">J</text>
<text x="184.32" y="724.6" font-size="8.3" textLength="6.24" lengthAdjust="spacingAndGlyphs" fill="#231f20">A</text>
<text x="202.03" y="724.6" font-size="8.3" textLength="6.26" lengthAdjust="spacingAndGlyphs" fill="#231f20">S</text>
<text x="219.24" y="724.6" font-size="8.3" textLength="7.29" lengthAdjust="spacingAndGlyphs" fill="#231f20">O</text>
<text x="236.85" y="724.6" font-size="8.3" textLength="7.5" lengthAdjust="spacingAndGlyphs" fill="#231f20">N</text>
<text x="254.62" y="724.6" font-size="8.3" textLength="7.07" lengthAdjust="spacingAndGlyphs" fill="#231f20">D</text>
<text x="134.29" y="743.5" font-size="10.8" textLength="58.33" lengthAdjust="spacingAndGlyphs" fill="#231f20">Month 2024</text>
<text x="294.49" y="713.3" font-size="9.1" textLength="5.82" lengthAdjust="spacingAndGlyphs" fill="#231f20">0</text>
<text x="274.41" y="681.3" font-size="9.1" textLength="25.89" lengthAdjust="spacingAndGlyphs" fill="#231f20">1,000</text>
<text x="274.69" y="649.3" font-size="9.1" textLength="25.61" lengthAdjust="spacingAndGlyphs" fill="#231f20">2,000</text>
<text x="274.81" y="617.3" font-size="9.1" textLength="25.49" lengthAdjust="spacingAndGlyphs" fill="#231f20">3,000</text>
<text x="274.97" y="585.3" font-size="9.1" textLength="25.33" lengthAdjust="spacingAndGlyphs" fill="#231f20">4,000</text>
<text x="274.79" y="553.3" font-size="9.1" textLength="25.51" lengthAdjust="spacingAndGlyphs" fill="#231f20">5,000</text>
<text x="305.29" y="473.4" font-size="8.7" textLength="26.32" lengthAdjust="spacingAndGlyphs" fill="#231f20">00:00</text>
<text x="398.7" y="473.4" font-size="8.7" textLength="25.1" lengthAdjust="spacingAndGlyphs" fill="#231f20">24:00</text>
<text x="434.2" y="473.4" font-size="8.7" textLength="25.81" lengthAdjust="spacingAndGlyphs" fill="#231f20">00:00</text>
<text x="528.8" y="473.4" font-size="8.7" textLength="25.1" lengthAdjust="spacingAndGlyphs" fill="#231f20">24:00</text>
<text x="562.89" y="473.4" font-size="8.7" textLength="26.01" lengthAdjust="spacingAndGlyphs" fill="#231f20">00:00</text>
<text x="658.5" y="473.4" font-size="8.7" textLength="24.89" lengthAdjust="spacingAndGlyphs" fill="#231f20">24:00</text>
<text x="306.5" y="721" font-size="8.7" textLength="25.91" lengthAdjust="spacingAndGlyphs" fill="#231f20">00:00</text>
<text x="399.1" y="721" font-size="8.7" textLength="25.1" lengthAdjust="spacingAndGlyphs" fill="#231f20">24:00</text>
<text x="430.6" y="721" font-size="8.7" textLength="25.81" lengthAdjust="spacingAndGlyphs" fill="#231f20">00:00</text>
<text x="524.5" y="721" font-size="8.7" textLength="25.1" lengthAdjust="spacingAndGlyphs" fill="#231f20">24:00</text>
<text x="556.59" y="721" font-size="8.7" textLength="26.01" lengthAdjust="spacingAndGlyphs" fill="#231f20">00:00</text>
<text x="652.01" y="721" font-size="8.7" textLength="24.37" lengthAdjust="spacingAndGlyphs" fill="#231f20">24:00</text>
<text x="341.76" y="490.8" font-size="10.8" textLength="55.56" lengthAdjust="spacingAndGlyphs" fill="#231f20">Time of day</text>
<text x="468.96" y="490.8" font-size="10.8" textLength="56.06" lengthAdjust="spacingAndGlyphs" fill="#231f20">Time of day</text>
<text x="600.36" y="490.8" font-size="10.8" textLength="55.76" lengthAdjust="spacingAndGlyphs" fill="#231f20">Time of day</text>
<text x="342.86" y="737.9" font-size="10.8" textLength="55.16" lengthAdjust="spacingAndGlyphs" fill="#231f20">Time of day</text>
<text x="464.66" y="737.9" font-size="10.8" textLength="56.16" lengthAdjust="spacingAndGlyphs" fill="#231f20">Time of day</text>
<text x="592.76" y="737.9" font-size="10.8" textLength="56.16" lengthAdjust="spacingAndGlyphs" fill="#231f20">Time of day</text>
<text x="365.22" y="294.18" font-size="8.8" textLength="8.37" lengthAdjust="spacingAndGlyphs" fill="#231f20">(i)</text>
<text x="486.91" y="294.02" font-size="8.59" textLength="10.58" lengthAdjust="spacingAndGlyphs" fill="#231f20">(ii)</text>
<text x="617.41" y="294.02" font-size="8.59" textLength="12.68" lengthAdjust="spacingAndGlyphs" fill="#231f20">(iii)</text>
<text x="320.25" y="324.8" font-size="8.7" textLength="30.88" lengthAdjust="spacingAndGlyphs" fill="#231f20">Exports</text>
<text x="456.07" y="312.6" font-size="8.7" textLength="54.22" lengthAdjust="spacingAndGlyphs" fill="#231f20">Onset of load</text>
<text x="464.44" y="322.5" font-size="8.7" textLength="38.27" lengthAdjust="spacingAndGlyphs" fill="#231f20">shedding</text>
<text x="448.56" y="374.6" font-size="7.6" textLength="45.03" lengthAdjust="spacingAndGlyphs" fill="#231f20">Shutdowns of</text>
<text x="461.13" y="384.1" font-size="7.6" textLength="19.28" lengthAdjust="spacingAndGlyphs" fill="#231f20">Mazar</text>
<text x="502.46" y="363.8" font-size="7.6" textLength="42.03" lengthAdjust="spacingAndGlyphs" fill="#231f20">Shutdown of</text>
<text x="502.2" y="373.6" font-size="7.6" textLength="42.81" lengthAdjust="spacingAndGlyphs" fill="#231f20">Paute Molino</text>
<text x="580.06" y="310.7" font-size="8.7" textLength="58.52" lengthAdjust="spacingAndGlyphs" fill="#231f20">Extensive load</text>
<text x="590.74" y="320.1" font-size="8.7" textLength="38.17" lengthAdjust="spacingAndGlyphs" fill="#231f20">shedding</text>
<text x="590.36" y="369.6" font-size="7.6" textLength="61.11" lengthAdjust="spacingAndGlyphs" fill="#231f20">Shutdowns across</text>
<text x="594.22" y="379.5" font-size="7.6" textLength="53.31" lengthAdjust="spacingAndGlyphs" fill="#231f20">Complejo Paute</text>
<text x="206.02" y="330.6" font-size="7.6" textLength="42.59" lengthAdjust="spacingAndGlyphs" fill="#231f20">Hydro 2022</text>
<text x="166" y="325.04" font-size="8.48" textLength="8.6" lengthAdjust="spacingAndGlyphs" fill="#231f20">(i)</text>
<text x="194.1" y="364.44" font-size="8.48" textLength="10.81" lengthAdjust="spacingAndGlyphs" fill="#231f20">(ii)</text>
<text x="214.59" y="371.53" font-size="8.05" textLength="13.01" lengthAdjust="spacingAndGlyphs" fill="#231f20">(iii)</text>
<text x="364.48" y="538.96" font-size="8.91" textLength="8.95" lengthAdjust="spacingAndGlyphs" fill="#231f20">(i)</text>
<text x="482.12" y="538.98" font-size="8.8" textLength="10.47" lengthAdjust="spacingAndGlyphs" fill="#231f20">(ii)</text>
<text x="609.22" y="538.98" font-size="8.8" textLength="12.57" lengthAdjust="spacingAndGlyphs" fill="#231f20">(iii)</text>
<text x="317.05" y="559.1" font-size="8.7" textLength="69.22" lengthAdjust="spacingAndGlyphs" fill="#231f20">Enhanced export</text>
<text x="333.58" y="568.8" font-size="8.7" textLength="36.57" lengthAdjust="spacingAndGlyphs" fill="#231f20">potential</text>
<text x="361.02" y="651.6" font-size="8.7" textLength="51.03" lengthAdjust="spacingAndGlyphs" fill="#fff">Hydropower</text>
<text x="352.72" y="661.8" font-size="8.7" textLength="68.79" lengthAdjust="spacingAndGlyphs" fill="#fff">adapting to VREs</text>
<text x="436.58" y="558.4" font-size="8.7" textLength="45.61" lengthAdjust="spacingAndGlyphs" fill="#231f20">Solar&#8211;wind</text>
<text x="440.35" y="569" font-size="8.7" textLength="38.98" lengthAdjust="spacingAndGlyphs" fill="#231f20">synergies</text>
<text x="473.03" y="620.6" font-size="8.7" textLength="38.27" lengthAdjust="spacingAndGlyphs" fill="#231f20">No hydro</text>
<text x="469.74" y="631" font-size="8.7" textLength="44.8" lengthAdjust="spacingAndGlyphs" fill="#231f20">shutdowns</text>
<text x="588.9" y="561.8" font-size="8.7" textLength="39.42" lengthAdjust="spacingAndGlyphs" fill="#231f20">Mitigated</text>
<text x="579.37" y="571.4" font-size="8.7" textLength="58.03" lengthAdjust="spacingAndGlyphs" fill="#231f20">load shedding</text>
<text x="577.93" y="625" font-size="8.7" textLength="85.61" lengthAdjust="spacingAndGlyphs" fill="#231f20">Mitigated shutdowns</text>
<text x="187.3" y="586.7" font-size="7.6" textLength="55.63" lengthAdjust="spacingAndGlyphs" fill="#231f20">Hydro S1 regular</text>
<text x="165.32" y="576.41" font-size="8.16" textLength="8.37" lengthAdjust="spacingAndGlyphs" fill="#231f20">(i)</text>
<text x="195.32" y="611.06" font-size="7.94" textLength="10.47" lengthAdjust="spacingAndGlyphs" fill="#231f20">(ii)</text>
<text x="213.9" y="612.34" font-size="8.48" textLength="12.9" lengthAdjust="spacingAndGlyphs" fill="#231f20">(iii)</text>
</svg>
</body></html>
